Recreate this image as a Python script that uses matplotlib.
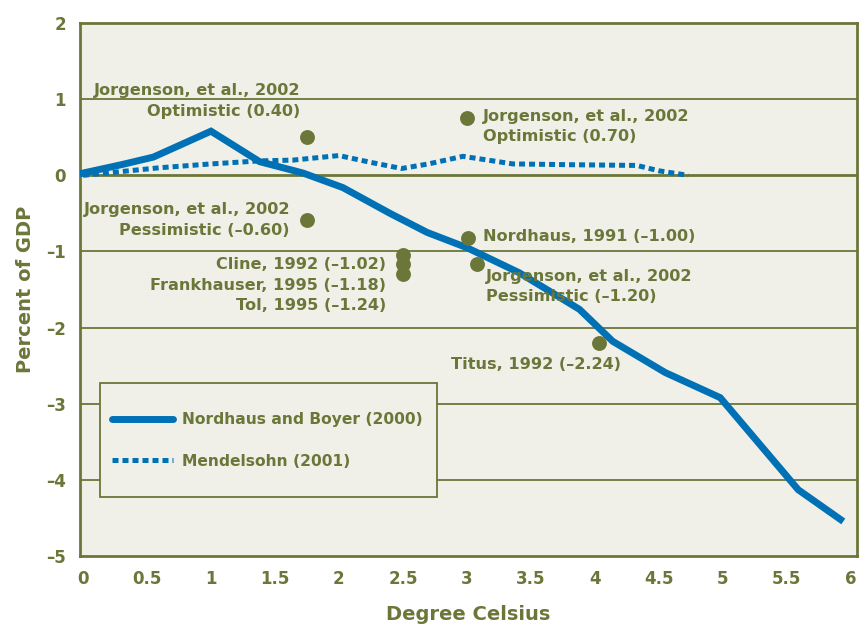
import matplotlib.pyplot as plt
from matplotlib.patches import Rectangle

# Nordhaus and Boyer (2000) curve
nb_x = [0, 0.3, 0.55, 1.0, 1.38, 1.72, 2.03, 2.4, 2.69, 3.0, 3.41, 3.88, 4.14, 4.55, 4.98, 5.59, 5.92]
nb_y = [0.03, 0.14, 0.24, 0.58, 0.18, 0.03, -0.16, -0.5, -0.75, -0.95, -1.28, -1.76, -2.18, -2.59, -2.92, -4.13, -4.52]

# Mendelsohn (2001) curve
me_x = [0, 0.3, 0.6, 1.0, 1.38, 1.64, 2.0, 2.25, 2.49, 2.7, 2.97, 3.36, 3.8, 4.33, 4.5, 4.73]
me_y = [0.0, 0.05, 0.1, 0.15, 0.19, 0.2, 0.26, 0.17, 0.09, 0.15, 0.25, 0.15, 0.14, 0.13, 0.06, 0.0]

# individual study estimates (as plotted)
pt_x = [1.75, 3.0, 1.75, 3.01, 3.08, 2.5, 2.5, 2.5, 4.03]
pt_y = [0.51, 0.75, -0.59, -0.82, -1.16, -1.04, -1.17, -1.30, -2.2]

xticks = [0, 0.5, 1, 1.5, 2, 2.5, 3, 3.5, 4, 4.5, 5, 5.5, 6]
xticklabels = ['0', '0.5', '1', '1.5', '2', '2.5', '3', '3.5', '4', '4.5', '5', '5.5', '6']
yticks = [-5, -4, -3, -2, -1, 0, 1, 2]
yticklabels = ['–5', '–4', '–3', '–2', '–1', '0', '1', '2']

olive = '#6b7739'
blue = '#0071b5'
bg = '#f0f0e9'

plt.rcParams['font.family'] = ['DejaVu Sans']
plt.rcParams['font.weight'] = 'bold'

fig = plt.figure(figsize=(8.61, 6.24), dpi=100)
ax = fig.add_axes([0.093, 0.109, 0.902, 0.854])
ax.set_facecolor(bg)

ax.set_xlim(-0.023, 6.047)
ax.set_ylim(-5, 2)

for yv in [-4, -3, -2, -1, 1]:
    ax.axhline(yv, color=olive, lw=1.3, zorder=1)
ax.axhline(0, color=olive, lw=2, zorder=1)

ax.plot(nb_x, nb_y, color=blue, lw=5, solid_joinstyle='miter', zorder=3,
        label='Nordhaus and Boyer (2000)')
ax.plot(me_x, me_y, color=blue, lw=3.6, linestyle=(0, (1.2, 0.8)),
        dash_capstyle='butt', zorder=3, label='Mendelsohn (2001)')
ax.scatter(pt_x, pt_y, s=115, color=olive, zorder=4, linewidths=0)

fs = 11.6
kw = dict(color=olive, fontsize=fs, fontweight='bold', va='center', linespacing=1.45, zorder=5)
ax.text(1.695, 0.975, 'Jorgenson, et al., 2002\nOptimistic (0.40)', ha='right', multialignment='right', **kw)
ax.text(3.125, 0.64, 'Jorgenson, et al., 2002\nOptimistic (0.70)', ha='left', **kw)
ax.text(1.617, -0.585, 'Jorgenson, et al., 2002\nPessimistic (–0.60)', ha='right', multialignment='right', **kw)
ax.text(3.125, -0.80, 'Nordhaus, 1991 (–1.00)', ha='left', **kw)
ax.text(3.15, -1.46, 'Jorgenson, et al., 2002\nPessimistic (–1.20)', ha='left', **kw)
ax.text(2.37, -1.445, 'Cline, 1992 (–1.02)\nFrankhauser, 1995 (–1.18)\nTol, 1995 (–1.24)',
        ha='right', multialignment='right', **kw)
ax.text(2.875, -2.49, 'Titus, 1992 (–2.24)', ha='left', **kw)

for s in ax.spines.values():
    s.set_color(olive)
    s.set_linewidth(2)

ax.set_xticks(xticks)
ax.set_xticklabels(xticklabels)
ax.set_yticks(yticks)
ax.set_yticklabels(yticklabels)
ax.tick_params(length=0, labelsize=12, labelcolor=olive, pad=10)
for lab in ax.get_xticklabels() + ax.get_yticklabels():
    lab.set_fontweight('bold')
ax.set_xlabel('Degree Celsius', color=olive, fontsize=14, fontweight='bold', labelpad=12)
ax.set_ylabel('Percent of GDP', color=olive, fontsize=14, fontweight='bold', labelpad=8)

# legend box drawn separately so the padding can match
box = Rectangle((0.0257, 0.1107), 0.4337, 0.2139, transform=ax.transAxes,
                facecolor=bg, edgecolor=olive, lw=1.3, zorder=6)
ax.add_patch(box)
leg = ax.legend(loc='upper left', bbox_to_anchor=(0.0412, 0.270), borderaxespad=0,
                frameon=False, fontsize=11.2, handlelength=3.9, borderpad=0,
                labelspacing=1.7, handletextpad=0.6, labelcolor=olive)
leg.set_zorder(7)
for t in leg.get_texts():
    t.set_fontweight('bold')
for h in leg.get_lines():
    h.set_solid_capstyle('round')

fig.savefig('out.png', dpi=100, facecolor='white')
